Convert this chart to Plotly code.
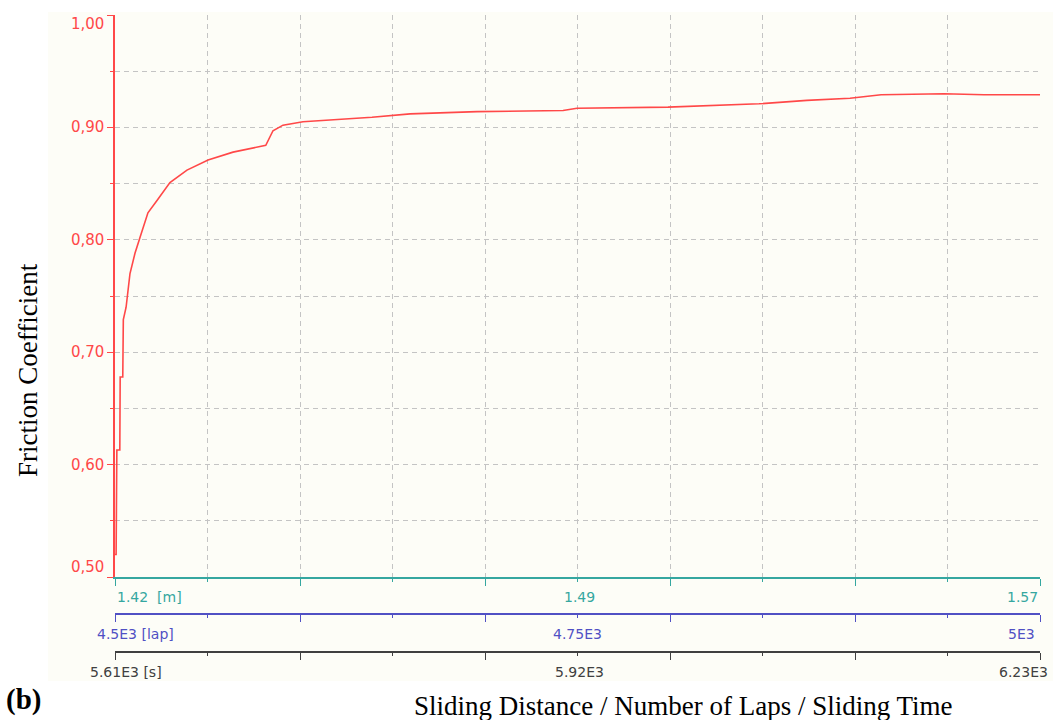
import numpy as np
import plotly.graph_objects as go

# ---- data -------------------------------------------------------------
laps = [4500.0, 4500.6, 4501.0, 4502.6, 4502.8, 4504.2, 4504.5, 4506.0,
        4508.1, 4510.8, 4513.5, 4517.8, 4522.7, 4529.7, 4538.9, 4550.3,
        4563.8, 4579.0, 4581.5, 4585.4, 4590.8, 4601.6, 4621.6, 4638.9,
        4659.5, 4695.7, 4742.2, 4749.7, 4798.9, 4848.1, 4874.0, 4897.3,
        4914.1, 4948.1, 4969.7, 5000.0]
friction = [0.520, 0.520, 0.613, 0.613, 0.678, 0.678, 0.729, 0.740,
            0.770, 0.788, 0.802, 0.824, 0.835, 0.851, 0.862, 0.871,
            0.878, 0.883, 0.884, 0.897, 0.902, 0.905, 0.907, 0.909,
            0.912, 0.914, 0.915, 0.917, 0.918, 0.921, 0.924, 0.926,
            0.929, 0.930, 0.929, 0.929]

distance_range = [1.42, 1.57]      # m
laps_range = [4500, 5000]          # lap
time_range = [5610, 6230]          # s
y_range = [0.50, 1.00]

distance_labels = ["1.42  [m]", "1.49", "1.57"]
laps_labels = ["4.5E3 [lap]", "4.75E3", "5E3"]
time_labels = ["5.61E3 [s]", "5.92E3", "6.23E3"]
y_tick_values = [0.5, 0.6, 0.7, 0.8, 0.9, 1.0]
y_tick_labels = ["0,50", "0,60", "0,70", "0,80", "0,90", "1,00"]

# ---- style ------------------------------------------------------------
RED = "#ff4848"
TEAL = "#35a7a0"
BLUE = "#5050c4"
DARK = "#404040"
GRID = "#c4c4c4"
TICK_FONT = dict(family="DejaVu Sans", size=14)

# layout geometry (pixels)
W, H = 1053, 720
ML, MR, MT, MB = 115, 13, 15, 35
plot_h = H - MT - MB
plot_w = W - ML - MR


def py(pix):
    """pixel row -> paper y"""
    return (H - MB - pix) / plot_h


def px(pix):
    """pixel column -> paper x"""
    return (pix - ML) / plot_w


fig = go.Figure()

# light backdrop of the instrument panel
fig.add_shape(type="rect", xref="paper", yref="paper",
              x0=px(48), x1=px(1053), y0=py(681), y1=py(12),
              fillcolor="#fdfdf7", line_width=0, layer="below")

fig.add_trace(go.Scatter(x=laps, y=friction, xaxis="x2", yaxis="y",
                         mode="lines", line=dict(color=RED, width=1.6),
                         hoverinfo="skip", showlegend=False))


def xticks(rng):
    return list(np.linspace(rng[0], rng[1], 6))


common_x = dict(showticklabels=False, ticks="outside", ticklen=7, tickwidth=1,
                zeroline=False, linewidth=1.5, fixedrange=True)

fig.update_layout(
    width=W, height=H,
    margin=dict(l=ML, r=MR, t=MT, b=MB),
    paper_bgcolor="white", plot_bgcolor="rgba(0,0,0,0)",
    xaxis=dict(range=distance_range, anchor="y", tickvals=xticks(distance_range),
               linecolor=TEAL, tickcolor=TEAL,
               showgrid=True, gridcolor=GRID, griddash="5px,4px", gridwidth=1,
               minor=dict(tickvals=list(np.linspace(distance_range[0], distance_range[1], 11)),
                          ticks="outside", ticklen=3, tickcolor=TEAL,
                          showgrid=True, gridcolor=GRID, griddash="5px,4px"),
               **common_x),
    xaxis2=dict(range=laps_range, overlaying="x", anchor="free", position=py(614),
                tickvals=xticks(laps_range), linecolor=BLUE, tickcolor=BLUE,
                showgrid=False,
                minor=dict(tickvals=list(np.linspace(laps_range[0], laps_range[1], 11)),
                           ticks="outside", ticklen=3, tickcolor=BLUE),
                **common_x),
    xaxis3=dict(range=time_range, overlaying="x", anchor="free", position=py(652),
                tickvals=xticks(time_range), linecolor=DARK, tickcolor=DARK,
                showgrid=False,
                minor=dict(tickvals=list(np.linspace(time_range[0], time_range[1], 11)),
                           ticks="outside", ticklen=3, tickcolor=DARK),
                **common_x),
    yaxis=dict(range=y_range, domain=[py(577), 1.0], anchor="x",
               tickvals=y_tick_values, showticklabels=False,
               ticks="outside", ticklen=6, tickcolor=RED,
               showline=True, linecolor=RED, linewidth=2,
               showgrid=True, gridcolor=GRID, griddash="5px,4px",
               minor=dict(dtick=0.05, ticks="outside", ticklen=3, tickcolor=RED,
                          showgrid=True, gridcolor=GRID, griddash="5px,4px"),
               zeroline=False, fixedrange=True),
    showlegend=False,
)

# invisible traces so the distance and time axes are rendered
fig.add_trace(go.Scatter(x=time_range, y=[None, None], xaxis="x3", yaxis="y",
                         mode="lines", hoverinfo="skip", showlegend=False))
fig.add_trace(go.Scatter(x=distance_range, y=[None, None], xaxis="x", yaxis="y",
                         mode="lines", hoverinfo="skip", showlegend=False))

# friction tick labels; the end labels are nudged inside the axis span
for val, lab in zip(y_tick_values, y_tick_labels):
    shift = 10 if val == y_range[0] else (-9 if val == y_range[1] else 0)
    fig.add_annotation(x=px(106), xref="paper", y=val, yref="y", text=lab,
                       showarrow=False, xanchor="right", yanchor="middle",
                       yshift=shift,
                       font=dict(family="DejaVu Sans", size=15, color=RED))

# tick labels of the three abscissae
axis_rows = [
    ("x", distance_range, distance_labels, TEAL, 597, (0, 2, 0)),
    ("x2", laps_range, laps_labels, BLUE, 634, (-20, 0, -3)),
    ("x3", time_range, time_labels, DARK, 672, (-27, 2, 10)),
]
for xref, rng, labels, color, row, shifts in axis_rows:
    positions = [rng[0], (rng[0] + rng[1]) / 2, rng[1]]
    anchors = ["left", "center", "right"]
    for pos, lab, anc, sh in zip(positions, labels, anchors, shifts):
        fig.add_annotation(x=pos, xref=xref, y=py(row), yref="paper",
                           text=lab, showarrow=False, xanchor=anc, yanchor="middle",
                           xshift=sh, font=dict(color=color, **TICK_FONT))

# titles
fig.add_annotation(x=px(28), y=py(370), xref="paper", yref="paper",
                   text="Friction Coefficient", textangle=-90, showarrow=False,
                   xanchor="center", yanchor="middle",
                   font=dict(family="Liberation Serif", size=27, color="black"))
fig.add_annotation(x=px(412), y=py(706), xref="paper", yref="paper",
                   text="Sliding Distance / Number of Laps / Sliding Time",
                   showarrow=False, xanchor="left", yanchor="middle",
                   font=dict(family="Liberation Serif", size=27, color="black"))
fig.add_annotation(x=px(4), y=py(699), xref="paper", yref="paper",
                   text="<b>(b)</b>", showarrow=False, xanchor="left", yanchor="middle",
                   font=dict(family="Liberation Serif", size=29, color="black"))

fig.write_html("out.html")
